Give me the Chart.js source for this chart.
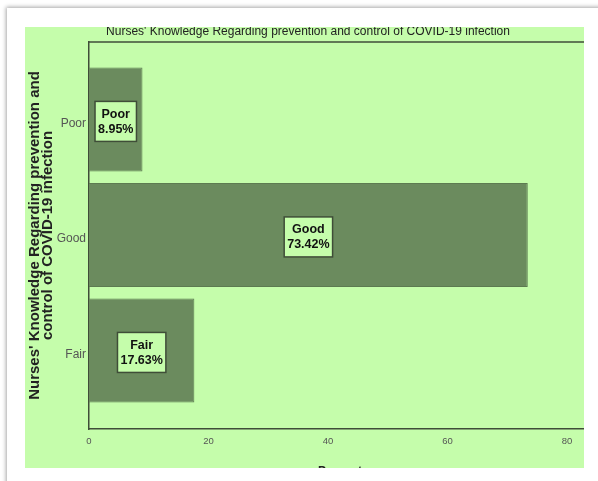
<!DOCTYPE html>
<html>
<head>
<meta charset="utf-8">
<script src="https://cdn.jsdelivr.net/npm/chart.js@4.4.1/dist/chart.umd.min.js"></script>
<style>
    html, body { margin: 0; padding: 0; background: #fff; width: 598px; height: 481px; overflow: hidden; }
    #card {
        position: absolute; left: 7px; top: 8px; width: 640px; height: 520px;
        background: #fff; box-shadow: -1px -1px 4px rgba(0,0,0,0.35);
    }
    #plotBg {
        position: absolute; left: 25px; top: 27px; width: 559px; height: 441px;
        background: #c5fdab; overflow: hidden;
    }
    #knowledgeChart { position: absolute; left: 0; top: -10px; }
</style>
</head>
<body>
<div id="card"></div>
<div id="plotBg">
    <canvas id="knowledgeChart" width="575" height="462" style="width:575px;height:462px"></canvas>
</div>
<script>
// 資料
const categories = ["Poor", "Good", "Fair"];
const percentValues = [8.95, 73.42, 17.63];
const xTicks = [0, 20, 40, 60, 80];

const chartTitle = "Nurses' Knowledge Regarding prevention and control of COVID-19 infection";
const yTitle = ["Nurses' Knowledge Regarding prevention and", "control of COVID-19 infection"];
const xTitle = "Percent";

const barColor = "#6b8b5e";
const boxColor = "#c5fdab";
const lineColor = "#3f4d38";

Chart.defaults.font.family = "'Liberation Sans', Arial, sans-serif";

// ======= 條上標籤 (框起來) =======
const boxLabels = {
    id: "boxLabels",
    afterDatasetsDraw(chart) {
        const c = chart.ctx;
        const meta = chart.getDatasetMeta(0);
        c.save();
        c.font = "bold 12.5px 'Liberation Sans', Arial, sans-serif";
        c.textAlign = "center";
        c.textBaseline = "middle";
        meta.data.forEach((bar, i) => {
            const lines = [categories[i], percentValues[i].toFixed(2) + "%"];
            const w = Math.max(...lines.map(t => c.measureText(t).width)) + 6;
            const h = 40;
            const cx = (bar.x + bar.base) / 2;
            const cy = bar.y + 2;
            c.fillStyle = boxColor;
            c.fillRect(cx - w / 2, cy - h / 2, w, h);
            c.strokeStyle = lineColor;
            c.lineWidth = 1.5;
            c.strokeRect(cx - w / 2, cy - h / 2, w, h);
            c.fillStyle = "#111";
            c.fillText(lines[0], cx, cy - 7);
            c.fillText(lines[1], cx, cy + 8);
        });
        c.restore();
    }
};

// ======= 上框線 =======
const topFrame = {
    id: "topFrame",
    afterDraw(chart) {
        const { ctx: c, chartArea: a } = chart;
        c.save();
        c.strokeStyle = lineColor;
        c.lineWidth = 1.5;
        c.beginPath();
        c.moveTo(a.left, a.top);
        c.lineTo(a.right, a.top);
        c.stroke();
        c.restore();
    }
};

const ctx = document.getElementById("knowledgeChart").getContext("2d");

new Chart(ctx, {
    type: "bar",
    data: {
        datasets: [{
            data: categories.map((c, i) => ({ x: percentValues[i], y: i })),
            backgroundColor: barColor,
            borderColor: "#5d7b51",
            borderWidth: 1,
            barPercentage: 0.9,
            categoryPercentage: 1.0
        }]
    },
    options: {
        indexAxis: "y",
        responsive: false,
        animation: false,
        layout: { padding: { right: 9 } },
        plugins: {
            legend: { display: false },
            tooltip: { enabled: false },
            title: {
                display: true,
                text: chartTitle,
                color: "#222",
                font: { size: 12, weight: "normal" },
                padding: { top: 7, bottom: 3.6 }
            }
        },
        scales: {
            x: {
                type: "linear",
                min: 0,
                max: 84,
                grid: { display: false, drawTicks: false },
                border: { display: true, color: lineColor, width: 1.5 },
                ticks: { stepSize: 20, padding: 7, color: "#555", font: { size: 9.5 } },
                afterBuildTicks: scale => {
                    scale.ticks = xTicks.map(v => ({ value: v }));
                },
                afterFit: scale => { scale.height = 50; },
                title: {
                    display: true,
                    text: xTitle,
                    color: "#222",
                    font: { size: 12, weight: "bold" },
                    padding: 0
                }
            },
            y: {
                type: "linear",
                reverse: true,
                offset: false,
                min: -0.67,
                max: 2.68,
                grid: { display: false, drawTicks: false },
                border: { display: true, color: lineColor, width: 1.5 },
                ticks: {
                    padding: 3,
                    labelOffset: 4,
                    color: "#555",
                    font: { size: 12 },
                    callback: v => categories[v]
                },
                afterBuildTicks: scale => {
                    scale.ticks = categories.map((c, i) => ({ value: i }));
                },
                afterFit: scale => { scale.width = 64; },
                title: {
                    display: true,
                    text: yTitle,
                    color: "#222",
                    font: { size: 15, weight: "bold", lineHeight: 0.82 },
                    padding: { top: 4, bottom: 0 }
                }
            }
        }
    },
    plugins: [boxLabels, topFrame]
});
</script>
</body>
</html>
